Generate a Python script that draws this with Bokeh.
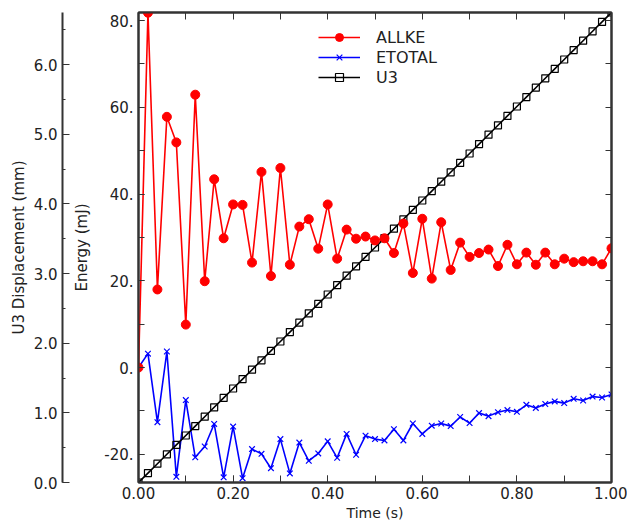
from bokeh.plotting import figure
from bokeh.models import (Range1d, LinearAxis, SingleIntervalTicker, FixedTicker,
                          PrintfTickFormatter, Legend, LegendItem)
from bokeh.embed import file_html
from bokeh.resources import INLINE

time_s = [0.00, 0.02, 0.04, 0.06, 0.08, 0.10, 0.12, 0.14, 0.16, 0.18, 0.20,
          0.22, 0.24, 0.26, 0.28, 0.30, 0.32, 0.34, 0.36, 0.38, 0.40,
          0.42, 0.44, 0.46, 0.48, 0.50, 0.52, 0.54, 0.56, 0.58, 0.60,
          0.62, 0.64, 0.66, 0.68, 0.70, 0.72, 0.74, 0.76, 0.78, 0.80,
          0.82, 0.84, 0.86, 0.88, 0.90, 0.92, 0.94, 0.96, 0.98, 1.00]

allke = [0.0, 81.8, 18.0, 57.8, 51.9, 9.9, 62.9, 19.9, 43.4, 29.8, 37.6,
         37.5, 24.2, 45.1, 21.1, 46.0, 23.7, 32.5, 34.2, 27.4, 37.6,
         25.1, 31.8, 29.7, 30.2, 29.3, 29.8, 26.4, 33.2, 21.8, 34.3,
         20.5, 33.5, 22.5, 28.8, 25.5, 26.4, 27.2, 23.4, 28.3, 23.8,
         26.5, 23.7, 26.5, 23.8, 25.1, 24.3, 24.5, 24.5, 23.8, 27.5]

etotal = [0.0, 3.2, -12.6, 3.7, -25.2, -7.5, -20.7, -18.2, -13.0, -25.3, -13.6,
          -25.5, -18.8, -19.9, -23.2, -16.5, -24.4, -17.3, -21.5, -19.8, -17.0,
          -20.8, -15.3, -20.1, -15.7, -16.5, -16.8, -14.2, -16.8, -12.9, -15.3,
          -13.4, -12.9, -13.5, -11.4, -12.8, -10.5, -11.2, -10.3, -9.8, -10.2,
          -8.6, -9.3, -8.4, -7.8, -8.2, -7.2, -7.6, -6.7, -6.9, -6.2]

u3 = [0.000, 0.135, 0.270, 0.405, 0.540, 0.675, 0.810, 0.945, 1.080, 1.215, 1.350,
      1.485, 1.620, 1.755, 1.890, 2.025, 2.160, 2.295, 2.430, 2.565, 2.700,
      2.835, 2.970, 3.105, 3.240, 3.375, 3.510, 3.645, 3.780, 3.915, 4.050,
      4.185, 4.320, 4.455, 4.590, 4.725, 4.860, 4.995, 5.130, 5.265, 5.400,
      5.535, 5.670, 5.805, 5.940, 6.075, 6.210, 6.345, 6.480, 6.615, 6.750]

series_names = ["ALLKE", "ETOTAL", "U3"]

FONT = "DejaVu Sans"
AX = "#333333"
TXT = "#222222"

p = figure(width=627, height=523, output_backend="svg", toolbar_location=None,
           x_range=Range1d(0, 1), y_range=Range1d(-26.5, 81.85),
           min_border_left=138, min_border_right=16, min_border_top=12,
           min_border_bottom=41, background_fill_color="white",
           border_fill_color="white")
p.extra_y_ranges = {"u3": Range1d(0, 6.75)}
p.xgrid.visible = False
p.ygrid.visible = False
p.outline_line_color = AX
p.outline_line_width = 2


def style(ax, tick_len=6, minor_len=6, font_size="15px", label_size="15px"):
    ax.axis_line_color = AX
    ax.axis_line_width = 2
    ax.major_tick_line_color = AX
    ax.minor_tick_line_color = AX
    ax.major_tick_in = tick_len
    ax.major_tick_out = 0
    ax.minor_tick_in = minor_len
    ax.minor_tick_out = 0
    ax.major_label_text_font = FONT
    ax.major_label_text_font_size = font_size
    ax.major_label_text_color = TXT
    ax.axis_label_text_font = FONT
    ax.axis_label_text_font_size = label_size
    ax.axis_label_text_font_style = "normal"
    ax.axis_label_text_color = TXT


# x axis (bottom)
xa = p.xaxis[0]
xa.ticker = SingleIntervalTicker(interval=0.2, num_minor_ticks=2)
xa.formatter = PrintfTickFormatter(format="%.2f")
xa.axis_label = "Time (s)"
style(xa, 7, 7, "15px", "14px")
xa.major_label_standoff = 4
xa.axis_label_standoff = 3

# energy axis (left, inner)
ya = p.yaxis[0]
ya.ticker = SingleIntervalTicker(interval=20, num_minor_ticks=2)
ya.formatter = PrintfTickFormatter(format="%d.")
ya.axis_label = "Energy (mJ)"
style(ya, 6, 6)
ya.major_label_standoff = 5
ya.axis_label_standoff = 10

# blank gap between the two left axes (a white outward tick gives it width)
sp = LinearAxis(y_range_name="u3", ticker=FixedTicker(ticks=[6.7], minor_ticks=[]))
sp.axis_line_color = None
sp.major_tick_line_color = "white"
sp.minor_tick_line_color = None
sp.major_tick_in = 0
sp.major_tick_out = 8
sp.major_label_text_color = None
p.add_layout(sp, "left")

# U3 displacement axis (left, outer)
ua = LinearAxis(y_range_name="u3",
                ticker=SingleIntervalTicker(interval=1, num_minor_ticks=2),
                formatter=PrintfTickFormatter(format="%.1f"),
                axis_label="U3 Displacement (mm)")
style(ua, 7, 3)
ua.major_label_standoff = 5
ua.axis_label_standoff = 3
p.add_layout(ua, "left")

# frame ticks (top and right)
ta = LinearAxis(ticker=SingleIntervalTicker(interval=0.1, num_minor_ticks=0))
style(ta, 7, 0, "0px")
ta.major_label_standoff = 0
ta.major_label_text_alpha = 0
p.add_layout(ta, "above")

ra = LinearAxis(ticker=SingleIntervalTicker(interval=10, num_minor_ticks=0))
style(ra, 6, 0, "0px")
ra.major_label_standoff = 0
ra.major_label_text_alpha = 0
p.add_layout(ra, "right")

# data
l_e = p.line(time_s, etotal, line_color="#0000ff", line_width=1.6)
s_e = p.scatter(time_s, etotal, marker="x", size=8, line_color="#0000ff",
                line_width=1.2)
l_u = p.line(time_s, u3, y_range_name="u3", line_color="black", line_width=1.6)
s_u = p.scatter(time_s, u3, y_range_name="u3", marker="square", size=7,
                fill_color=None, line_color="black", line_width=1.2)
l_k = p.line(time_s, allke, line_color="#ff0000", line_width=1.6)
s_k = p.scatter(time_s, allke, marker="circle", size=9, fill_color="#ff0000",
                line_color="#ff0000")

legend = Legend(items=[LegendItem(label=series_names[0], renderers=[l_k, s_k]),
                       LegendItem(label=series_names[1], renderers=[l_e, s_e]),
                       LegendItem(label=series_names[2], renderers=[l_u, s_u])],
                location=(180, 395), border_line_color=None,
                background_fill_alpha=0, padding=0, margin=0, spacing=0,
                glyph_width=42, glyph_height=20, label_height=20,
                label_standoff=16, label_text_font=FONT,
                label_text_font_size="16px", label_text_color=TXT)
p.add_layout(legend)

open("out.html", "w").write(file_html(p, INLINE))
